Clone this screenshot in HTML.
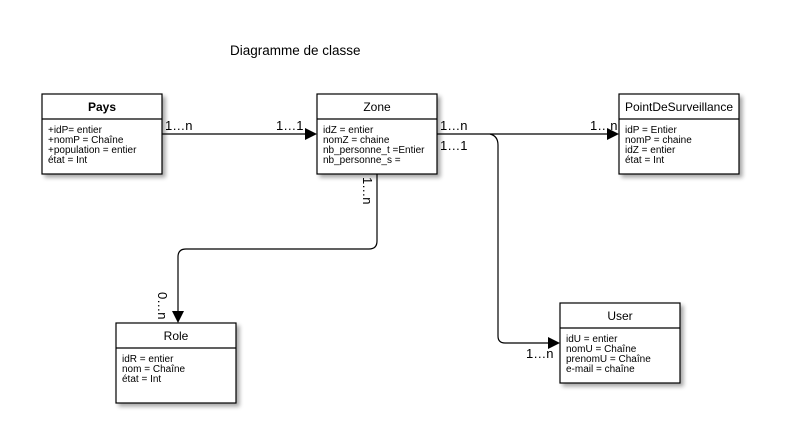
<!DOCTYPE html>
<html><head><meta charset="utf-8"><style>
body{margin:0;width:803px;height:433px;background:#fff;overflow:hidden;font-family:"Liberation Sans",sans-serif;}
</style></head><body>
<svg width="803" height="433" xmlns="http://www.w3.org/2000/svg" font-family="Liberation Sans, sans-serif">
<defs><filter id="s" x="-10%" y="-10%" width="130%" height="130%"><feGaussianBlur in="SourceAlpha" stdDeviation="2"/><feOffset dx="3" dy="3"/><feComponentTransfer><feFuncA type="linear" slope="0.35"/></feComponentTransfer><feMerge><feMergeNode/><feMergeNode in="SourceGraphic"/></feMerge></filter></defs>
<text x="230" y="55" font-size="13.5">Diagramme de classe</text>
<g stroke="#000" fill="none" stroke-width="1.2">
<path d="M162 134H311"/>
<path d="M437 134H613"/>
<path d="M490 134Q498 136 498 145V336Q498 343 505 343H554"/>
<path d="M377 174V241Q377 249 369 249H186Q178 249 178 257V317"/>
</g>
<g fill="#000">
<path d="M317 134L305 128V140Z"/>
<path d="M619 134L607 128V140Z"/>
<path d="M560 343L548 337V349Z"/>
<path d="M178 323L172 311H184Z"/>
</g>
<g font-size="13">
<text x="165" y="130">1…n</text>
<text x="276" y="130">1…1</text>
<text x="440" y="130">1…n</text>
<text x="440" y="150">1…1</text>
<text x="590" y="130">1…n</text>
<text x="526" y="358">1…n</text>
<text transform="translate(363,177) rotate(90)">1…n</text>
<text transform="translate(158,292) rotate(90)">0…n</text>
</g>
<g filter="url(#s)" fill="#fff" stroke="#000" stroke-width="1.2">
<rect x="42" y="94" width="120" height="80"/>
<rect x="317" y="94" width="120" height="80"/>
<rect x="619" y="94" width="120" height="80"/>
<rect x="116" y="323" width="120" height="80"/>
<rect x="560" y="303" width="120" height="80"/>
</g>
<g stroke="#000" stroke-width="1.2">
<path d="M42 119H162M317 119H437M619 119H739M116 348H236M560 328H680"/>
</g>
<g font-size="12" text-anchor="middle">
<text x="102" y="111" font-weight="bold">Pays</text>
<text x="377" y="111">Zone</text>
<text x="679" y="111">PointDeSurveillance</text>
<text x="176" y="340">Role</text>
<text x="620" y="320">User</text>
</g>
<g font-size="10">
<text x="48" y="133">+idP= entier</text><text x="48" y="143">+nomP = Chaîne</text><text x="48" y="153">+population = entier</text><text x="48" y="163">état = Int</text>
<text x="323" y="133">idZ = entier</text><text x="323" y="143">nomZ = chaine</text><text x="323" y="153">nb_personne_t =Entier</text><text x="323" y="163">nb_personne_s =</text>
<text x="625" y="133">idP = Entier</text><text x="625" y="143">nomP = chaine</text><text x="625" y="153">idZ = entier</text><text x="625" y="163">état = Int</text>
<text x="122" y="362">idR = entier</text><text x="122" y="372">nom = Chaîne</text><text x="122" y="382">état = Int</text>
<text x="566" y="342">idU = entier</text><text x="566" y="352">nomU = Chaîne</text><text x="566" y="362">prenomU = Chaîne</text><text x="566" y="372">e-mail = chaîne</text>
</g>
</svg>
</body></html>
